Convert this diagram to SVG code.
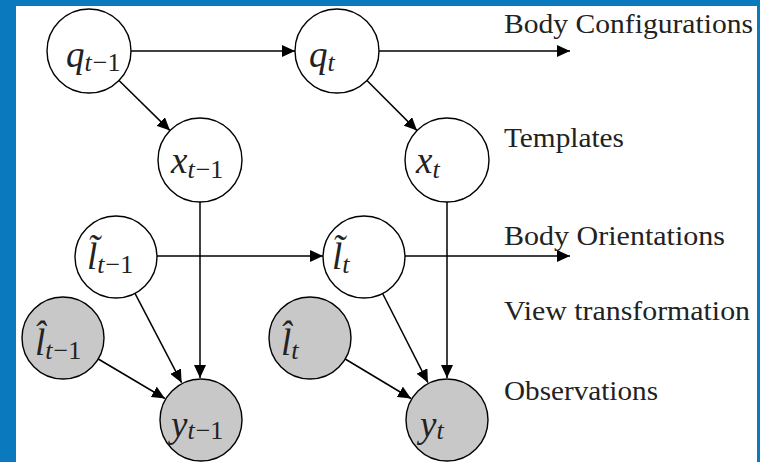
<svg xmlns="http://www.w3.org/2000/svg" width="760" height="462" viewBox="0 0 760 462">
<style>
.n{stroke:#000;stroke-width:1.4;fill:#fff}
.o{stroke:#000;stroke-width:1.4;fill:#c8c8c8}
.e{stroke:#000;stroke-width:1.5;fill:none;marker-end:url(#ah)}
.m{font-family:'Liberation Serif','Times New Roman',serif;font-size:37px;font-style:italic;fill:#222}
.s{font-size:26px}
.u{font-style:normal}
.lab{font-family:'Liberation Serif','Times New Roman',serif;font-size:27px;fill:#222}
</style>
<defs>
<marker id="ah" markerUnits="userSpaceOnUse" markerWidth="14" markerHeight="12" refX="13" refY="6" orient="auto">
<path d="M0,0 L13,6 L0,12 z" fill="#000"/>
</marker>
</defs>
<rect x="0" y="0" width="760" height="462" fill="#0b79bd"/>
<rect x="16" y="6" width="741" height="456" fill="#fff"/>

<g id="connectors">
<line class="e" x1="131" y1="51" x2="295" y2="51"/>
<line class="e" x1="379" y1="51" x2="570" y2="51"/>
<line class="e" x1="119" y1="80.5" x2="170" y2="130.6"/>
<line class="e" x1="367" y1="80.5" x2="417" y2="130.6"/>
<line class="e" x1="200" y1="202" x2="200" y2="378"/>
<line class="e" x1="447" y1="202" x2="447" y2="378"/>
<line class="e" x1="157" y1="256" x2="323" y2="256"/>
<line class="e" x1="405" y1="256" x2="570" y2="256"/>
<line class="e" x1="135" y1="293.4" x2="181.6" y2="382.7"/>
<line class="e" x1="98.3" y1="359" x2="164.9" y2="398.5"/>
<line class="e" x1="382.6" y1="293.5" x2="427.9" y2="382.6"/>
<line class="e" x1="345.2" y1="359" x2="411" y2="398.5"/>
</g>

<g id="q_prev"><circle class="n" cx="89" cy="51" r="42"/><text class="m" x="66" y="67">q<tspan class="s" dy="4">t</tspan><tspan class="s u" dx="1">−1</tspan></text></g>
<g id="q_t"><circle class="n" cx="337" cy="51" r="42"/><text class="m" x="309" y="67">q<tspan class="s" dy="4">t</tspan></text></g>
<g id="x_prev"><circle class="n" cx="200" cy="160" r="42"/><text class="m" x="171" y="173">x<tspan class="s" dy="5">t</tspan><tspan class="s u" dx="1">−1</tspan></text></g>
<g id="x_t"><circle class="n" cx="447" cy="160" r="42"/><text class="m" x="416" y="173">x<tspan class="s" dy="5">t</tspan></text></g>
<g id="ltilde_prev"><circle class="n" cx="116" cy="257" r="41"/><text class="m" x="87" y="269">l̃<tspan class="s" dy="4">t</tspan><tspan class="s u" dx="1">−1</tspan></text></g>
<g id="ltilde_t"><circle class="n" cx="364" cy="257" r="41"/><text class="m" x="332" y="269">l̃<tspan class="s" dy="4">t</tspan></text></g>
<g id="lhat_prev"><circle class="o" cx="63" cy="338" r="41"/><text class="m" x="35" y="355">l̂<tspan class="s" dy="4">t</tspan><tspan class="s u" dx="1">−1</tspan></text></g>
<g id="lhat_t"><circle class="o" cx="310" cy="338" r="41"/><text class="m" x="281" y="355">l̂<tspan class="s" dy="4">t</tspan></text></g>
<g id="y_prev"><circle class="o" cx="201" cy="420" r="41"/><text class="m" x="171" y="437">y<tspan class="s" dy="2">t</tspan><tspan class="s u" dx="1">−1</tspan></text></g>
<g id="y_t"><circle class="o" cx="447" cy="420" r="41"/><text class="m" x="420" y="437">y<tspan class="s" dy="2">t</tspan></text></g>

<g id="labels">
<text class="lab" x="504" y="33" textLength="249" lengthAdjust="spacingAndGlyphs">Body Configurations</text>
<text class="lab" x="504" y="147" textLength="120" lengthAdjust="spacingAndGlyphs">Templates</text>
<text class="lab" x="504" y="245" textLength="221" lengthAdjust="spacingAndGlyphs">Body Orientations</text>
<text class="lab" x="504" y="320" textLength="246" lengthAdjust="spacingAndGlyphs">View transformation</text>
<text class="lab" x="504" y="400" textLength="154" lengthAdjust="spacingAndGlyphs">Observations</text>
</g>
</svg>
